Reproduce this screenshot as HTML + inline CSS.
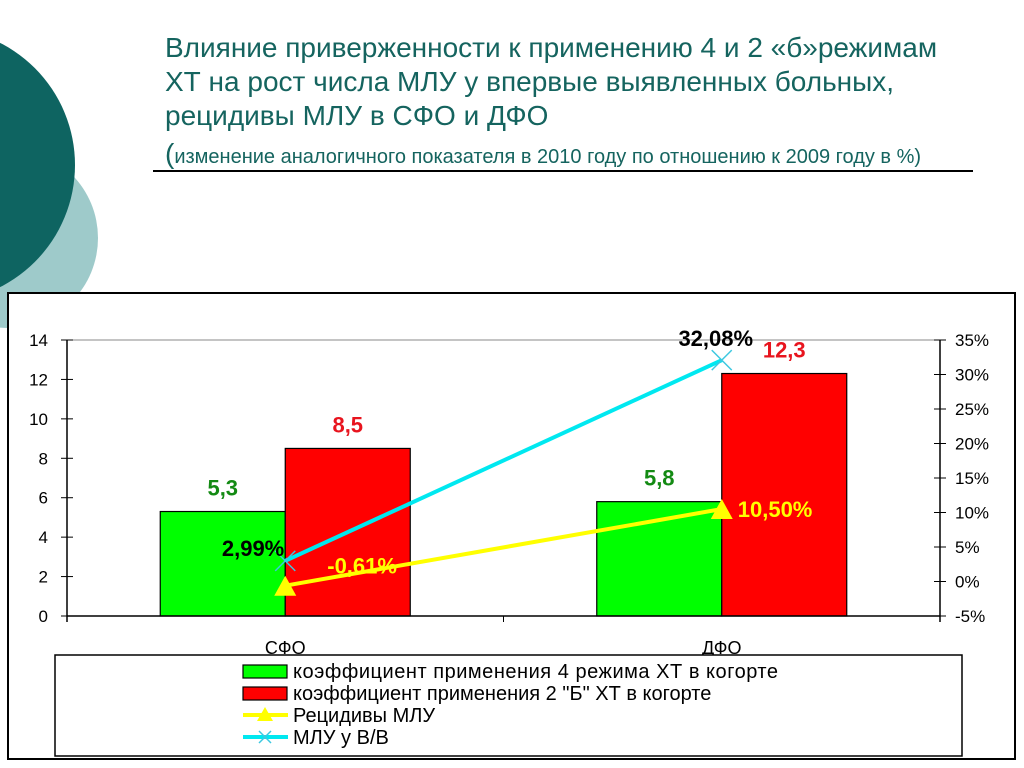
<!DOCTYPE html>
<html><head><meta charset="utf-8">
<style>
body{margin:0;width:1024px;height:768px;overflow:hidden;background:#fff;font-family:"Liberation Sans",sans-serif;position:relative}
.t{position:absolute;left:165px;color:#15645f;font-size:28px;line-height:34px;white-space:nowrap}
</style></head><body>
<svg width="1024" height="768" style="position:absolute;left:0;top:0">
<circle cx="8" cy="238" r="90" fill="#9ecaca"/>
<circle cx="-62" cy="165" r="137" fill="#0e6461"/>
</svg>
<div class="t" style="top:31px">Влияние приверженности к применению 4 и 2 «б»режимам<br>ХТ на рост числа МЛУ у впервые выявленных больных,<br>рецидивы МЛУ в СФО и ДФО</div>
<div class="t" style="top:137px;font-size:20px"><span style="font-size:28px">(</span>изменение аналогичного показателя в 2010 году по отношению к 2009 году в %)</div>
<div style="position:absolute;left:153px;top:170px;width:820px;height:1.5px;background:#000"></div>
<svg id="c" width="1024" height="768" style="position:absolute;left:0;top:0" font-family="Liberation Sans, sans-serif"></svg>
<script>
const categories=["СФО","ДФО"];
const coef4=[5.3,5.8];
const coef2b=[8.5,12.3];
const recid=[-0.61,10.50];
const mlu=[2.99,32.08];
const leftTicks=[0,2,4,6,8,10,12,14];
const rightTicks=[-5,0,5,10,15,20,25,30,35];
const recidLabels=["-0,61%","10,50%"];
const mluLabels=["2,99%","32,08%"];
const coef4Labels=["5,3","5,8"];
const coef2bLabels=["8,5","12,3"];
const NS="http://www.w3.org/2000/svg";
const svg=document.getElementById('c');
function el(t,a,txt){const e=document.createElementNS(NS,t);for(const k in a)e.setAttribute(k,a[k]);if(txt!==undefined)e.textContent=txt;svg.appendChild(e);return e;}
const X0=67,X1=940,Y0=616,Y1=340;
const yL=v=>Y0-(v-0)/14*(Y0-Y1);
const yR=v=>Y0-(v+5)/40*(Y0-Y1);
const cw=(X1-X0)/categories.length;
const xc=i=>X0+cw*(i+0.5);
const BW=125;
let e;
e=el('rect',{x:8,y:293,width:1007,height:466,fill:'#fff',stroke:'#000','stroke-width':2});

e=el('line',{x1:X0,y1:Y1,x2:X1,y2:Y1,stroke:'#888','stroke-width':1});

e=el('line',{x1:X0,y1:Y1,x2:X0,y2:Y0+6,stroke:'#000','stroke-width':1.5});

leftTicks.forEach(v=>{const y=yL(v);
el('line',{x1:X0-6,y1:y,x2:X0+6,y2:y,stroke:'#000'});
e=el('text',{x:48,y:y+6,'text-anchor':'end','font-size':17},v);
});
e=el('line',{x1:X1,y1:Y1,x2:X1,y2:Y0+6,stroke:'#000','stroke-width':1.5});

rightTicks.forEach(v=>{const y=yR(v);
el('line',{x1:X1-6,y1:y,x2:X1+6,y2:y,stroke:'#000'});
e=el('text',{x:955,y:y+6,'font-size':17},v+'%');
});
categories.forEach((c,i)=>{
e=el('rect',{x:xc(i)-BW,y:yL(coef4[i]),width:BW,height:Y0-yL(coef4[i]),fill:'#00ff00',stroke:'#000','stroke-width':1.2});

e=el('rect',{x:xc(i),y:yL(coef2b[i]),width:BW,height:Y0-yL(coef2b[i]),fill:'#ff0000',stroke:'#000','stroke-width':1.2});

e=el('text',{x:xc(i)-BW/2,y:yL(coef4[i])-16,'text-anchor':'middle','font-size':22,'font-weight':'bold',fill:'#138a13'},coef4Labels[i]);

e=el('text',{x:xc(i)+BW/2,y:yL(coef2b[i])-16,'text-anchor':'middle','font-size':22,'font-weight':'bold',fill:'#e8141e'},coef2bLabels[i]);

e=el('text',{x:xc(i),y:Y0+38,'text-anchor':'middle','font-size':18},c);

});
e=el('line',{x1:X0,y1:Y0,x2:X1,y2:Y0,stroke:'#000','stroke-width':1.5});

for(let i=0;i<=categories.length;i++){el('line',{x1:X0+cw*i,y1:Y0,x2:X0+cw*i,y2:Y0+6,stroke:'#000'});}
e=el('polyline',{points:mlu.map((v,i)=>xc(i)+','+yR(v)).join(' '),fill:'none',stroke:'#00e8f0','stroke-width':4});

mlu.forEach((v,i)=>{const x=xc(i),y=yR(v);
e=el('path',{d:`M${x-10} ${y-10}L${x+10} ${y+10}M${x-10} ${y+10}L${x+10} ${y-10}`,stroke:'#3cc8e0','stroke-width':1.5});
});
e=el('polyline',{points:recid.map((v,i)=>xc(i)+','+yR(v)).join(' '),fill:'none',stroke:'#ffff00','stroke-width':4});

recid.forEach((v,i)=>{const x=xc(i),y=yR(v);
e=el('path',{d:`M${x} ${y-10}L${x+11} ${y+10}L${x-11} ${y+10}Z`,fill:'#ffff00'});
});
e=el('text',{x:xc(0)-1,y:yR(mlu[0])-5,'text-anchor':'end','font-size':22,'font-weight':'bold'},mluLabels[0]);

e=el('text',{x:xc(1)-6,y:yR(mlu[1])-14,'text-anchor':'middle','font-size':22,'font-weight':'bold'},mluLabels[1]);

e=el('text',{x:xc(0)+42,y:yR(recid[0])-12,'font-size':22,'font-weight':'bold',fill:'#ffff00'},recidLabels[0]);

e=el('text',{x:xc(1)+16,y:yR(recid[1])+8,'font-size':22,'font-weight':'bold',fill:'#ffff00'},recidLabels[1]);

e=el('rect',{x:55,y:655,width:907,height:101,fill:'#fff',stroke:'#000','stroke-width':1.5});

const lg=["коэффициент применения 4 режима ХТ в когорте","коэффициент применения 2 \"Б\" ХТ  в когорте","Рецидивы МЛУ","МЛУ у В/В"];
lg.forEach((t,i)=>{const y=671+i*22;
if(i<2){e=el('rect',{x:243,y:y-6,width:44,height:13,fill:i?'#ff0000':'#00ff00',stroke:'#000','stroke-width':1.2});}
else{e=el('line',{x1:243,y1:y,x2:288,y2:y,stroke:i==2?'#ffff00':'#00e8f0','stroke-width':4});
if(i==2)el('path',{d:`M265 ${y-8}L273 ${y+6}L257 ${y+6}Z`,fill:'#ffff00'});
else el('path',{d:`M259 ${y-6}L271 ${y+6}M259 ${y+6}L271 ${y-6}`,stroke:'#3cc8e0','stroke-width':1.5});}

e=el('text',{x:293,y:y+7,'font-size':20,'textLength':i==0?485:null},t);
if(i==0)e.setAttribute('textLength','485'); else e.removeAttribute('textLength');
});
</script>
</body></html>
